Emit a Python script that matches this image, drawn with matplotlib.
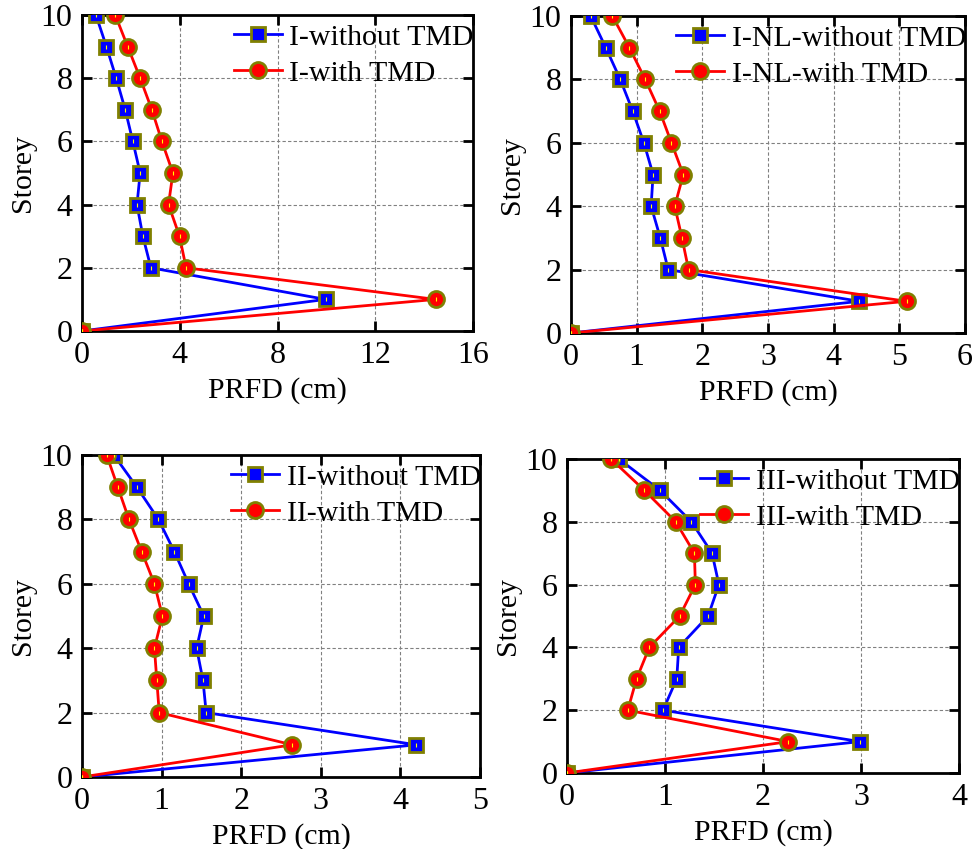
import matplotlib
matplotlib.use("Agg")
import matplotlib.pyplot as plt
import numpy as np

plt.rcParams['font.family'] = ['Liberation Serif', 'DejaVu Serif']
plt.rcParams['mathtext.fontset'] = 'stix'

storey = [0, 1, 2, 3, 4, 5, 6, 7, 8, 9, 10]

# Panel 1
p1_without = [0, 9.97, 2.82, 2.49, 2.25, 2.38, 2.08, 1.77, 1.40, 1.00, 0.57]
p1_with = [0, 14.47, 4.26, 3.99, 3.54, 3.72, 3.27, 2.86, 2.38, 1.87, 1.36]
# Panel 2
p2_without = [0, 4.39, 1.48, 1.36, 1.22, 1.25, 1.11, 0.94, 0.75, 0.53, 0.30]
p2_with = [0, 5.11, 1.79, 1.69, 1.58, 1.71, 1.53, 1.35, 1.13, 0.89, 0.63]
# Panel 3
p3_without = [0, 4.20, 1.56, 1.52, 1.44, 1.53, 1.34, 1.16, 0.96, 0.69, 0.40]
p3_with = [0, 2.64, 0.97, 0.94, 0.91, 1.01, 0.91, 0.75, 0.59, 0.45, 0.31]
# Panel 4
p4_without = [0, 2.99, 0.98, 1.12, 1.14, 1.44, 1.55, 1.48, 1.27, 0.95, 0.53]
p4_with = [0, 2.26, 0.62, 0.71, 0.84, 1.15, 1.31, 1.30, 1.11, 0.79, 0.45]

labels = [("I-without TMD", "I-with TMD"),
          ("I-NL-without TMD", "I-NL-with TMD"),
          ("II-without TMD", "II-with TMD"),
          ("III-without TMD", "III-with TMD")]
xlims = [16, 6, 5, 4]
xticks = [[0, 4, 8, 12, 16], [0, 1, 2, 3, 4, 5, 6], [0, 1, 2, 3, 4, 5], [0, 1, 2, 3, 4]]
yticks = [0, 2, 4, 6, 8, 10]
data = [(p1_without, p1_with), (p2_without, p2_with),
        (p3_without, p3_with), (p4_without, p4_with)]

positions = [
    [82/975, 1-331/849, 391/975, 316/849],
    [571/975, 1-333/849, 394/975, 317/849],
    [82/975, 1-777/849, 398/975, 322/849],
    [567/975, 1-773/849, 392/975, 314/849],
]

fig = plt.figure(figsize=(9.75, 8.49), dpi=100)
FS = 21.5
TFS = 23
edge = '#808000'
for i in range(4):
    ax = fig.add_axes(positions[i])
    wo, wi = data[i]
    ax.plot(wo, storey, color='#0000ff', lw=2, marker='s', ms=10,
            mfc='#0000ff', mec=edge, mew=2, label=labels[i][0], zorder=3)
    ax.plot(wi, storey, color='#ff0000', lw=2, marker='o', ms=11.5,
            mfc='#ff0000', mec=edge, mew=2, label=labels[i][1], zorder=3)
    ax.plot(wo, storey, ls='none', marker='|', ms=3, mew=0.8, color='#ffff00', zorder=4)
    ax.plot(wi, storey, ls='none', marker='|', ms=3, mew=0.8, color='#ffff00', zorder=4)
    ax.set_xlim(0, xlims[i])
    ax.set_ylim(0, 10)
    ax.set_xticks(xticks[i])
    ax.set_yticks(yticks)
    ax.tick_params(direction='in', top=True, right=True, labelsize=TFS,
                   length=7, width=2, pad=7)
    ax.grid(True, ls=(0, (3, 2)), color='#808080', lw=0.8)
    for s in ax.spines.values():
        s.set_linewidth(2)
    ax.set_xlabel('PRFD (cm)', fontsize=FS, labelpad=5)
    ax.set_ylabel('Storey', fontsize=FS, labelpad=3)
    leg = ax.legend(loc='upper right', bbox_to_anchor=(1.025, 1.0), frameon=False,
                    fontsize=FS, handlelength=1.6, handletextpad=0.25,
                    labelspacing=0.3, borderaxespad=0.0, borderpad=0.3)
    leg.set_zorder(5)

fig.savefig('out.png', dpi=100)
